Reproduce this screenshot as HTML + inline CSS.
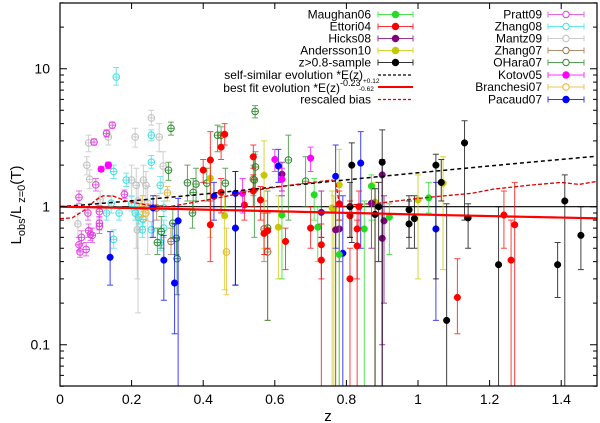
<!DOCTYPE html>
<html><head><meta charset="utf-8"><style>
html,body{margin:0;padding:0;background:#fff;}
svg{display:block;font-family:"Liberation Sans",sans-serif;}
</style></head><body>
<svg id="chart" width="600" height="423" viewBox="0 0 600 423" xmlns="http://www.w3.org/2000/svg">
<defs><clipPath id="plotclip"><rect x="60" y="3" width="537" height="383"/></clipPath></defs>
<g id="marks" clip-path="url(#plotclip)"></g>
<g id="axes"></g>
<g id="legend"></g>
</svg>
<script>
// ---- data: [z, L, errLow, errHigh] ----
const maughan06 = [[0.71,1.22,0.8,1.6],[0.72,0.71,0.4,1.0],[0.62,0.87,0.3,1.2],[0.78,0.45,0.05,0.8],[0.85,0.69,0.05,1.1],[0.87,1.41,0.8,1.7],[0.92,0.84,0.45,1.05],[1.03,1.16,0.9,1.5]];
const ettori04 = [[0.40,1.84,1.5,2.2],[0.42,2.18,0.75,3.5],[0.45,2.7,2.2,3.3],[0.46,3.35,2.8,4.0],[0.45,1.27,0.9,1.6],[0.42,0.74,0.4,1.1],[0.54,2.3,1.9,2.8],[0.54,1.3,1.0,1.7],[0.515,1.03,0.8,1.3],[0.56,1.12,0.8,1.4],[0.57,0.64,0.45,0.9],[0.58,0.67,0.5,0.9],[0.63,0.56,0.35,0.7],[0.70,0.7,0.5,1.0],[0.73,0.53,0.3,0.75],[0.73,0.41,0.05,0.6],[0.78,1.05,0.8,1.3],[0.81,0.86,0.6,1.1],[0.81,0.30,0.05,0.5],[0.83,0.69,0.05,1.0],[0.83,0.52,0.3,0.8],[0.835,1.0,0.7,1.3],[1.11,0.22,0.12,0.42],[1.24,0.87,0.5,1.3],[1.27,0.74,0.05,1.5],[1.26,0.41,0.05,0.8]];
const hicks08 = [[0.62,1.72,1.3,2.1],[0.73,0.91,0.6,1.3],[0.77,0.68,0.05,1.0],[0.78,0.69,0.4,1.0],[0.87,1.06,0.5,1.4],[0.90,1.7,0.05,2.2],[0.905,0.79,0.2,1.2],[0.90,0.59,0.1,0.9]];
const andersson10 = [[0.42,1.61,0.6,2.2],[0.46,0.86,0.25,1.2],[0.57,1.69,0.5,3.0],[0.61,0.71,0.3,1.2],[0.765,0.96,0.05,1.2],[0.78,1.44,0.05,2.6],[0.76,0.98,0.05,1.3],[0.88,1.08,0.05,1.5],[1.0,1.12,0.3,1.7],[1.07,1.48,0.35,2.3]];
const highz = [[0.815,2.0,0.55,2.9],[0.90,2.1,0.05,3.6],[0.81,1.0,0.6,1.5],[0.88,0.88,0.05,1.35],[0.89,1.0,0.4,1.5],[0.975,0.95,0.6,1.2],[0.975,0.75,0.5,1.1],[0.99,0.82,0.5,1.2],[1.05,2.0,0.3,2.4],[1.065,1.5,1.1,2.2],[1.08,0.15,0.05,1.05],[1.13,2.9,0.8,4.2],[1.14,0.83,0.5,1.05],[1.225,0.38,0.05,1.0],[1.41,1.1,0.05,1.7],[1.39,0.38,0.22,0.55],[1.455,0.62,0.35,1.0]];
const pratt09 = [[0.053,1.17,1.05,1.3],[0.053,0.53,0.48,0.6],[0.06,0.6,0.54,0.67],[0.056,0.47,0.43,0.52],[0.08,0.67,0.6,0.75],[0.085,0.63,0.57,0.7],[0.078,0.9,0.8,1.0],[0.09,0.62,0.55,0.7],[0.073,0.49,0.44,0.55],[0.095,2.94,2.8,3.1],[0.1,1.44,1.3,1.6],[0.11,0.92,0.83,1.02],[0.11,0.76,0.68,0.85],[0.11,0.72,0.64,0.8],[0.13,3.4,3.2,3.6],[0.146,3.9,3.7,4.1],[0.135,2.0,1.9,2.1],[0.18,1.23,1.15,1.32]];
const zhang08 = [[0.157,8.7,7.6,10.2],[0.15,1.8,1.6,2.0],[0.15,0.58,0.5,0.68],[0.143,1.06,0.9,1.2],[0.165,0.9,0.8,1.0],[0.185,1.56,1.4,1.75],[0.21,0.9,0.8,1.0],[0.22,0.84,0.75,0.95],[0.232,0.81,0.72,0.92],[0.23,0.68,0.6,0.78],[0.255,2.1,1.9,2.35],[0.255,3.3,3.0,3.6],[0.255,0.68,0.6,0.78],[0.28,1.43,1.25,1.65],[0.28,0.55,0.48,0.63],[0.29,0.98,0.85,1.1],[0.29,0.7,0.6,0.8],[0.2,1.05,0.93,1.18],[0.13,0.9,0.8,1.0]];
const mantz09 = [[0.075,2.0,1.7,2.3],[0.083,1.58,1.35,1.85],[0.08,2.9,2.5,3.3],[0.135,3.2,2.8,3.6],[0.05,0.75,0.6,0.9],[0.21,3.2,2.7,3.7],[0.255,4.4,3.9,5.0],[0.277,3.2,2.5,4.0],[0.288,1.97,1.5,2.5],[0.2,1.56,1.2,2.0],[0.213,1.43,0.5,1.9],[0.218,1.1,0.17,1.5],[0.233,1.56,1.2,2.0],[0.24,1.43,1.1,1.8],[0.216,0.68,0.3,1.0],[0.245,1.06,0.45,1.4],[0.112,1.12,0.95,1.3]];
const zhang07 = [[0.31,0.56,0.45,0.7],[0.58,0.47,0.15,0.7],[0.57,0.69,0.4,1.1],[0.54,1.58,1.2,2.0],[0.27,0.98,0.8,1.2]];
const ohara07 = [[0.31,3.7,3.3,4.1],[0.303,1.84,1.55,2.1],[0.356,1.49,1.1,2.0],[0.38,1.46,1.1,1.9],[0.372,1.27,0.9,1.6],[0.37,0.9,0.7,1.1],[0.41,1.48,1.1,1.9],[0.44,3.3,2.5,3.9],[0.45,3.3,2.8,3.8],[0.462,1.48,1.0,1.9],[0.545,4.9,4.4,5.4],[0.546,1.94,1.3,2.5],[0.543,1.56,0.6,2.4],[0.638,2.18,0.8,3.3],[0.283,0.66,0.5,0.85],[0.272,0.55,0.45,0.7],[0.325,0.59,0.45,0.75],[0.327,0.42,0.23,0.6],[0.315,0.76,0.6,0.95],[0.686,1.53,1.0,2.3],[0.58,0.7,0.15,1.3]];
const kotov05 = [[0.60,2.2,1.8,2.6],[0.62,1.58,1.2,1.9],[0.51,1.25,0.9,1.6],[0.70,2.25,1.8,2.7],[0.115,1.87,1.8,1.95],[0.135,2.0,1.9,2.1]];
const branchesi07 = [[0.24,0.9,0.8,1.05],[0.465,0.47,0.23,0.7],[0.30,1.26,1.1,1.4],[0.23,1.0,0.85,1.2]];
const pacaud07 = [[0.14,0.43,0.27,0.66],[0.29,0.41,0.21,0.62],[0.32,0.28,0.12,0.75],[0.33,0.79,0.05,1.15],[0.26,0.98,0.6,1.2],[0.43,1.19,0.8,1.5],[0.49,1.25,0.27,1.8],[0.49,0.70,0.27,1.8],[0.61,1.97,1.5,2.6],[0.77,1.66,0.5,2.8],[0.79,0.46,0.05,1.2],[0.84,2.07,0.5,3.5],[1.05,0.69,0.15,1.5]];
// rescaled bias curve
const biasZ = [0,0.034,0.07,0.1,0.12,0.15,0.185,0.24,0.305,0.36,0.45,0.55,0.64,0.76,0.77,0.78,0.79,0.81,0.89,0.99,1.06,1.15,1.21,1.31,1.40,1.45,1.51];
const biasL = [0.82,0.83,0.95,1.12,1.2,1.19,1.1,1.03,1.0,1.06,1.17,1.32,1.43,1.56,1.5,1.06,1.0,1.03,1.06,1.14,1.19,1.25,1.34,1.43,1.5,1.45,1.54];
const bestFitExp = -0.23;
const xTicks = [0,0.2,0.4,0.6,0.8,1,1.2,1.4];
const xTickLabels = ["0","0.2","0.4","0.6","0.8","1","1.2","1.4"];
const yTicks = [0.1,1,10];
const yTickLabels = ["0.1","1","10"];
const yMinor = [0.05,0.06,0.07,0.08,0.09,0.2,0.3,0.4,0.5,0.6,0.7,0.8,0.9,2,3,4,5,6,7,8,9,20,30];

const NS="http://www.w3.org/2000/svg";
const X0=60,X1=597,Y0=386,Y1=3;
function xS(z){return X0+z*(X1-X0)/1.5;}
function yS(L){return 206.7-138*Math.log10(L);}
function E(z){return Math.sqrt(0.3*Math.pow(1+z,3)+0.7);}
function mk(tag,attrs,parent){const e=document.createElementNS(NS,tag);for(const k in attrs)e.setAttribute(k,attrs[k]);parent.appendChild(e);return e;}
const marks=document.getElementById('marks'),axes=document.getElementById('axes'),legend=document.getElementById('legend');

const series=[
 {name:'Maughan06',d:maughan06,c:'#22dd22',fill:true,col:0,row:0},
 {name:'Ettori04',d:ettori04,c:'#ff0000',fill:true,col:0,row:1},
 {name:'Hicks08',d:hicks08,c:'#800080',fill:true,col:0,row:2},
 {name:'Andersson10',d:andersson10,c:'#c8c800',fill:true,col:0,row:3},
 {name:'z>0.8-sample',d:highz,c:'#000000',fill:true,col:0,row:4},
 {name:'Pratt09',d:pratt09,c:'#e040e0',fill:false,col:1,row:0},
 {name:'Zhang08',d:zhang08,c:'#40e0e0',fill:false,col:1,row:1},
 {name:'Mantz09',d:mantz09,c:'#c0c0c0',fill:false,col:1,row:2},
 {name:'Zhang07',d:zhang07,c:'#a0704a',fill:false,col:1,row:3},
 {name:'OHara07',d:ohara07,c:'#2e8b2e',fill:false,col:1,row:4},
 {name:'Kotov05',d:kotov05,c:'#ff00ff',fill:true,col:1,row:5},
 {name:'Branchesi07',d:branchesi07,c:'#f0b030',fill:false,col:1,row:6},
 {name:'Pacaud07',d:pacaud07,c:'#0000ff',fill:true,col:1,row:7}
];
const drawOrder=[7,5,6,8,9,11,12,3,2,0,1,10,4];

const hline=mk('line',{x1:X0,x2:X1,y1:yS(1),y2:yS(1),stroke:'#000','stroke-width':1.2},marks);



drawOrder.forEach(i=>{
 const s=series[i];
 const g=mk('g',{},marks);
 
 
 s.d.forEach(p=>{
  const x=xS(p[0]),y=yS(p[1]),ylo=yS(p[2]),yhi=yS(p[3]);
  const eb=mk('path',{d:`M${x},${ylo}V${yhi}M${x-3},${ylo}h6M${x-3},${yhi}h6`,stroke:s.c,'stroke-width':1,fill:'none','stroke-opacity':0.75},g);
  
  
  const pt=mk('circle',{cx:x,cy:y,r:3.3,fill:s.fill?s.c:'none',stroke:s.c,'stroke-width':s.fill?0.5:1},g);
  
  
  if(!s.fill){mk('line',{x1:x-3.3,x2:x+3.3,y1:y,y2:y,stroke:s.c,'stroke-width':0.8},g);}
 });
});

let ds='';for(let k=0;k<=60;k++){const z=1.5*k/60;ds+=(k?'L':'M')+xS(z)+','+yS(E(z));}
const ss=mk('path',{d:ds,stroke:'#000','stroke-width':1.5,fill:'none','stroke-dasharray':'4,3'},marks);


let db='';for(let k=0;k<=60;k++){const z=1.5*k/60;db+=(k?'L':'M')+xS(z)+','+yS(Math.pow(E(z),bestFitExp));}
const bf=mk('path',{d:db,stroke:'#ff0000','stroke-width':2.2,fill:'none'},marks);


let dbias='';biasZ.forEach((z,k)=>{dbias+=(k?'L':'M')+xS(z)+','+yS(biasL[k]);});
const bl=mk('path',{d:dbias,stroke:'#dd0000','stroke-width':1.3,fill:'none','stroke-dasharray':'4,2'},marks);



const fr=mk('rect',{x:X0,y:Y1,width:X1-X0,height:Y0-Y1,fill:'none',stroke:'#000','stroke-width':1.2},axes);


xTicks.forEach((t,i)=>{
 const x=xS(t);
 mk('path',{d:`M${x},${Y0}v-6M${x},${Y1}v6`,stroke:'#000','stroke-width':1},axes);
 const tl=mk('text',{x:x,y:404,'text-anchor':'middle','font-size':14},axes);
 tl.textContent=xTickLabels[i];
 
 
});
yTicks.forEach((t,i)=>{
 const y=yS(t);
 mk('path',{d:`M${X0},${y}h7M${X1},${y}h-7`,stroke:'#000','stroke-width':1},axes);
 const tl=mk('text',{x:50,y:y+5,'text-anchor':'end','font-size':14},axes);
 tl.textContent=yTickLabels[i];
 
 
});
yMinor.forEach(t=>{const y=yS(t);mk('path',{d:`M${X0},${y}h4M${X1},${y}h-4`,stroke:'#000','stroke-width':1},axes);});
const xt=mk('text',{x:328,y:421,'text-anchor':'middle','font-size':15},axes);
xt.textContent='z';


const yt=mk('text',{transform:'translate(21,205) rotate(-90)','text-anchor':'middle','font-size':15},axes);
yt.innerHTML='L<tspan font-size="11" dy="4">obs</tspan><tspan dy="-4">/L</tspan><tspan font-size="11" dy="4"> z=0</tspan><tspan dy="-4">(T)</tspan>';



const rowsY=[14.5,26.5,38.5,50.5,62.5,75,87,99.5];
series.forEach(s=>{
 const tx=s.col?542:371, lx0=s.col?548:378, lx1=s.col?584:413, y=rowsY[s.row];
 const g=mk('g',{},legend);
 
 
 const t=mk('text',{x:tx,y:y+4,'text-anchor':'end','font-size':12},g);t.textContent=s.name;
 mk('path',{d:`M${lx0},${y}H${lx1}M${lx0},${y-3}v6M${lx1},${y-3}v6`,stroke:s.c,'stroke-width':1,'stroke-opacity':0.8},g);
 mk('circle',{cx:(lx0+lx1)/2,cy:y,r:3.2,fill:s.fill?s.c:'#fff',stroke:s.c,'stroke-width':1},g);
});
function lineEntry(name,y,attrs){
 const g=mk('g',{},legend);
 
 
 mk('line',Object.assign({x1:378,x2:413,y1:y,y2:y},attrs),g);
 return g;
}
let g1=lineEntry('legend-self-similar',75,{stroke:'#000','stroke-width':1.3,'stroke-dasharray':'3,2'});
let t1=mk('text',{x:363,y:79,'text-anchor':'end','font-size':12},g1);t1.textContent='self-similar evolution *E(z)';
let g2=lineEntry('legend-best-fit',87,{stroke:'#ff0000','stroke-width':2});
let t2=mk('text',{x:340,y:92,'text-anchor':'end','font-size':12},g2);t2.textContent='best fit evolution *E(z)';
let t2a=mk('text',{x:340,y:86,'font-size':9},g2);t2a.textContent='-0.23';
let t2b=mk('text',{x:363,y:83,'font-size':6.5},g2);t2b.textContent='+0.12';
let t2c=mk('text',{x:359,y:91,'font-size':6.5},g2);t2c.textContent='-0.62';
let g3=lineEntry('legend-rescaled-bias',99.5,{stroke:'#dd0000','stroke-width':1.3,'stroke-dasharray':'3,2'});
let t3=mk('text',{x:371,y:103.5,'text-anchor':'end','font-size':12},g3);t3.textContent='rescaled bias';
</script>
</body></html>
